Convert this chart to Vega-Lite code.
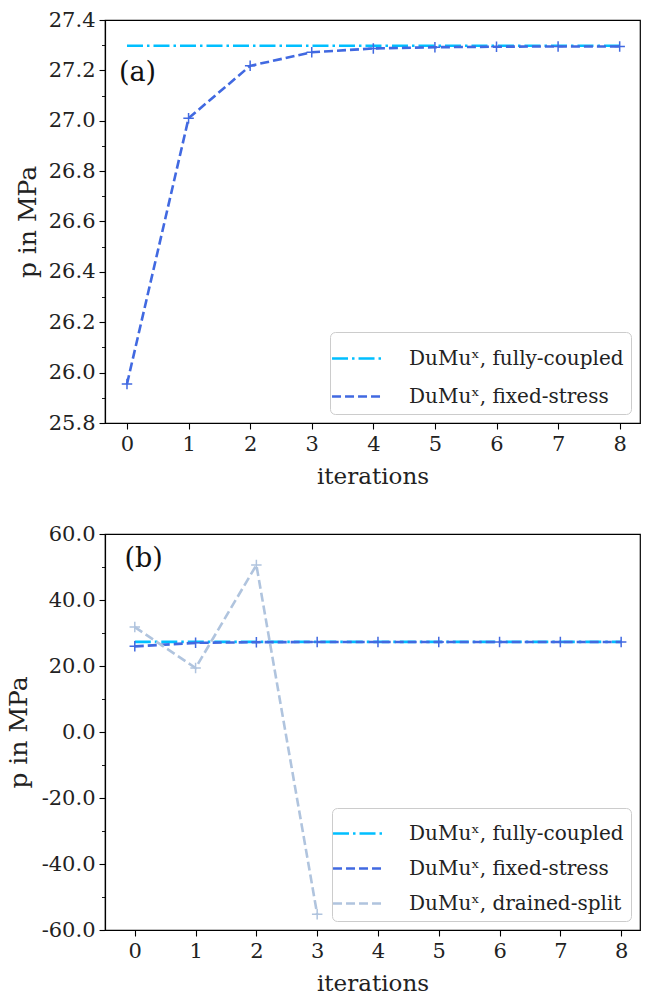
{
  "$schema": "https://vega.github.io/schema/vega-lite/v6.json",
  "padding": {"left": 5, "top": 8, "right": 7, "bottom": 5},
  "background": "white",
  "config": {
    "font": "DejaVu Serif",
    "view": {"stroke": "black", "strokeWidth": 1.2},
    "axis": {
      "labelFont": "DejaVu Serif", "labelFontSize": 21, "labelColor": "#222",
      "titleFont": "DejaVu Serif", "titleFontSize": 23, "titleFontWeight": "normal", "titleColor": "#222",
      "grid": false, "domainColor": "black", "tickColor": "black", "tickSize": 6, "domainWidth": 1.2, "tickWidth": 1.1
    },
    "legend": {
      "labelFont": "DejaVu Serif", "labelFontSize": 20, "labelColor": "#222", "labelLimit": 500,
      "fillColor": "rgba(255,255,255,0.85)", "strokeColor": "#cccccc", "cornerRadius": 5,
      "symbolStrokeWidth": 2.5, "labelOffset": 33, "offset": 9
    }
  },
  "spacing": 33,
  "resolve": {"scale": {"color": "independent", "strokeDash": "independent"}, "legend": {"color": "independent", "strokeDash": "independent"}},
  "vconcat": [
    {
      "width": 535, "height": 403,
      "data": {"values": [
        {"it": 0, "p": 27.298, "series": "DuMuˣ, fully-coupled"},
        {"it": 1, "p": 27.298, "series": "DuMuˣ, fully-coupled"},
        {"it": 2, "p": 27.298, "series": "DuMuˣ, fully-coupled"},
        {"it": 3, "p": 27.298, "series": "DuMuˣ, fully-coupled"},
        {"it": 4, "p": 27.298, "series": "DuMuˣ, fully-coupled"},
        {"it": 5, "p": 27.298, "series": "DuMuˣ, fully-coupled"},
        {"it": 6, "p": 27.298, "series": "DuMuˣ, fully-coupled"},
        {"it": 7, "p": 27.298, "series": "DuMuˣ, fully-coupled"},
        {"it": 8, "p": 27.298, "series": "DuMuˣ, fully-coupled"},
        {"it": 0, "p": 25.955, "series": "DuMuˣ, fixed-stress"},
        {"it": 1, "p": 27.01, "series": "DuMuˣ, fixed-stress"},
        {"it": 2, "p": 27.218, "series": "DuMuˣ, fixed-stress"},
        {"it": 3, "p": 27.272, "series": "DuMuˣ, fixed-stress"},
        {"it": 4, "p": 27.287, "series": "DuMuˣ, fixed-stress"},
        {"it": 5, "p": 27.292, "series": "DuMuˣ, fixed-stress"},
        {"it": 6, "p": 27.294, "series": "DuMuˣ, fixed-stress"},
        {"it": 7, "p": 27.295, "series": "DuMuˣ, fixed-stress"},
        {"it": 8, "p": 27.295, "series": "DuMuˣ, fixed-stress"}
      ]},
      "resolve": {"axis": {"y": "independent"}},
      "layer": [
        {
          "mark": {"type": "line", "strokeWidth": 2.6, "clip": true},
          "encoding": {
            "x": {"field": "it", "type": "quantitative", "scale": {"domain": [-0.357, 8.33], "nice": false, "zero": false},
                  "axis": {"values": [0,1,2,3,4,5,6,7,8], "format": "d", "title": "iterations", "titlePadding": 11, "labelPadding": 4}},
            "y": {"field": "p", "type": "quantitative", "scale": {"domain": [25.8, 27.4], "nice": false, "zero": false},
                  "axis": {"values": [25.8,26.0,26.2,26.4,26.6,26.8,27.0,27.2,27.4], "format": ".1f", "title": "p in MPa", "titleFontSize": 25, "titlePadding": 8, "labelPadding": 4, "orient": "left"}},
            "color": {"field": "series", "type": "nominal", "sort": null,
                      "scale": {"domain": ["DuMuˣ, fully-coupled", "DuMuˣ, fixed-stress"], "range": ["#00BFFF", "#4169E1"]},
                      "legend": {"title": null, "orient": "bottom-right", "symbolType": "M-1.36,0H1.36", "symbolSize": 1296, "rowPadding": 8, "padding": 7}},
            "strokeDash": {"field": "series", "type": "nominal", "sort": null,
                           "scale": {"domain": ["DuMuˣ, fully-coupled", "DuMuˣ, fixed-stress"], "range": [[16, 4, 2.5, 4], [9, 4]]},
                           "legend": {"title": null, "orient": "bottom-right", "symbolType": "M-1.36,0H1.36", "symbolSize": 1296, "rowPadding": 8, "padding": 7}}
          }
        },
        {
          "transform": [{"filter": "datum.series !== 'DuMuˣ, fully-coupled'"}],
          "mark": {"type": "point", "shape": "M-1,0H1M0,-1V1", "filled": false, "size": 110, "strokeWidth": 1.5, "opacity": 1},
          "encoding": {
            "x": {"field": "it", "type": "quantitative"},
            "y": {"field": "p", "type": "quantitative",
                  "axis": {"values": [25.9,26.1,26.3,26.5,26.7,26.9,27.1,27.3], "labels": false, "domain": false, "tickSize": 3.5, "title": null, "orient": "left", "tickWidth": 0.9}},
            "color": {"field": "series", "type": "nominal", "sort": null}
          }
        },
        {
          "data": {"values": [{"label": "(a)"}]},
          "mark": {"type": "text", "align": "left", "baseline": "middle", "fontSize": 27, "font": "DejaVu Serif", "fill": "#111"},
          "encoding": {
            "x": {"datum": -0.13, "type": "quantitative"},
            "y": {"datum": 27.19, "type": "quantitative",
                  "axis": {"values": [], "labels": false, "ticks": false, "domain": false, "title": null, "orient": "left"}},
            "text": {"field": "label"}
          }
        }
      ]
    },
    {
      "width": 535, "height": 396,
      "data": {"values": [
        {"it": 0, "p": 27.3, "series": "DuMuˣ, fully-coupled"},
        {"it": 1, "p": 27.3, "series": "DuMuˣ, fully-coupled"},
        {"it": 2, "p": 27.3, "series": "DuMuˣ, fully-coupled"},
        {"it": 3, "p": 27.3, "series": "DuMuˣ, fully-coupled"},
        {"it": 4, "p": 27.3, "series": "DuMuˣ, fully-coupled"},
        {"it": 5, "p": 27.3, "series": "DuMuˣ, fully-coupled"},
        {"it": 6, "p": 27.3, "series": "DuMuˣ, fully-coupled"},
        {"it": 7, "p": 27.3, "series": "DuMuˣ, fully-coupled"},
        {"it": 8, "p": 27.3, "series": "DuMuˣ, fully-coupled"},
        {"it": 0, "p": 25.955, "series": "DuMuˣ, fixed-stress"},
        {"it": 1, "p": 27.01, "series": "DuMuˣ, fixed-stress"},
        {"it": 2, "p": 27.218, "series": "DuMuˣ, fixed-stress"},
        {"it": 3, "p": 27.272, "series": "DuMuˣ, fixed-stress"},
        {"it": 4, "p": 27.287, "series": "DuMuˣ, fixed-stress"},
        {"it": 5, "p": 27.292, "series": "DuMuˣ, fixed-stress"},
        {"it": 6, "p": 27.294, "series": "DuMuˣ, fixed-stress"},
        {"it": 7, "p": 27.295, "series": "DuMuˣ, fixed-stress"},
        {"it": 8, "p": 27.295, "series": "DuMuˣ, fixed-stress"},
        {"it": 0, "p": 31.8, "series": "DuMuˣ, drained-split"},
        {"it": 1, "p": 19.4, "series": "DuMuˣ, drained-split"},
        {"it": 2, "p": 50.6, "series": "DuMuˣ, drained-split"},
        {"it": 3, "p": -55.2, "series": "DuMuˣ, drained-split"}
      ]},
      "resolve": {"axis": {"y": "independent"}},
      "layer": [
        {
          "mark": {"type": "line", "strokeWidth": 2.6, "clip": true},
          "encoding": {
            "x": {"field": "it", "type": "quantitative", "scale": {"domain": [-0.49, 8.31], "nice": false, "zero": false},
                  "axis": {"values": [0,1,2,3,4,5,6,7,8], "format": "d", "title": "iterations", "titlePadding": 11, "labelPadding": 4}},
            "y": {"field": "p", "type": "quantitative", "scale": {"domain": [-60, 60], "nice": false, "zero": false},
                  "axis": {"values": [-60,-40,-20,0,20,40,60], "format": ".1f", "labelExpr": "replace(datum.label, '−', '-')", "title": "p in MPa", "titleFontSize": 25, "titlePadding": 10, "labelPadding": 4, "orient": "left"}},
            "color": {"field": "series", "type": "nominal", "sort": null,
                      "scale": {"domain": ["DuMuˣ, fully-coupled", "DuMuˣ, fixed-stress", "DuMuˣ, drained-split"], "range": ["#00BFFF", "#4169E1", "#B0C4DE"]},
                      "legend": {"title": null, "orient": "bottom-right", "symbolType": "M-1.44,0H1.44", "symbolSize": 1156, "rowPadding": 6, "padding": 7}},
            "strokeDash": {"field": "series", "type": "nominal", "sort": null,
                           "scale": {"domain": ["DuMuˣ, fully-coupled", "DuMuˣ, fixed-stress", "DuMuˣ, drained-split"], "range": [[16, 4, 2.5, 4], [9, 4], [9, 4]]},
                           "legend": {"title": null, "orient": "bottom-right", "symbolType": "M-1.44,0H1.44", "symbolSize": 1156, "rowPadding": 6, "padding": 7}},
            "order": {"field": "it", "type": "quantitative"}
          }
        },
        {
          "transform": [{"filter": "datum.series !== 'DuMuˣ, fully-coupled'"}],
          "mark": {"type": "point", "shape": "M-1,0H1M0,-1V1", "filled": false, "size": 110, "strokeWidth": 1.5, "opacity": 1},
          "encoding": {
            "x": {"field": "it", "type": "quantitative"},
            "y": {"field": "p", "type": "quantitative",
                  "axis": {"values": [-50,-30,-10,10,30,50], "labels": false, "domain": false, "tickSize": 3.5, "title": null, "orient": "left", "tickWidth": 0.9}},
            "color": {"field": "series", "type": "nominal", "sort": null}
          }
        },
        {
          "data": {"values": [{"label": "(b)"}]},
          "mark": {"type": "text", "align": "left", "baseline": "middle", "fontSize": 27, "font": "DejaVu Serif", "fill": "#111"},
          "encoding": {
            "x": {"datum": -0.17, "type": "quantitative"},
            "y": {"datum": 52.3, "type": "quantitative",
                  "axis": {"values": [], "labels": false, "ticks": false, "domain": false, "title": null, "orient": "left"}},
            "text": {"field": "label"}
          }
        }
      ]
    }
  ]
}
